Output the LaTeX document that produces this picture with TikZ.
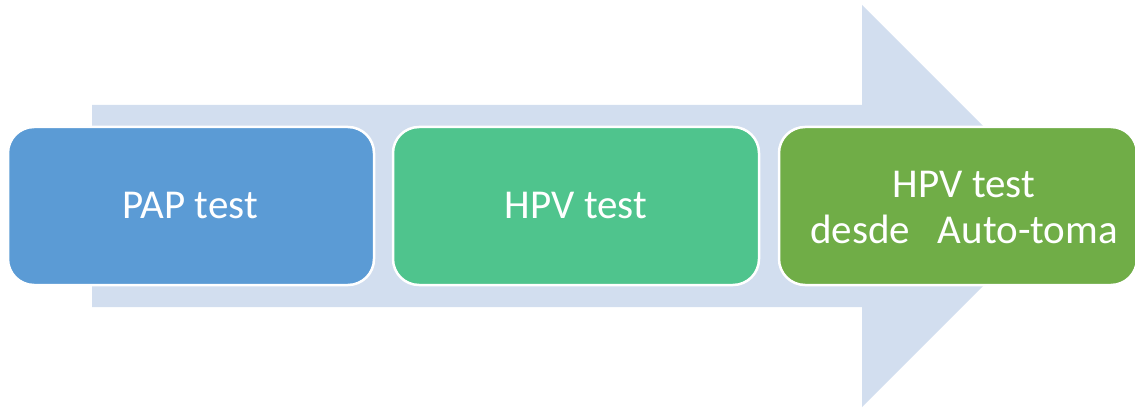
\documentclass[tikz,border=0pt]{standalone}
\usepackage{fontspec}
\setmainfont{Carlito}
\definecolor{arrowc}{HTML}{D2DEEF}
\definecolor{boxa}{HTML}{5B9BD5}
\definecolor{boxb}{HTML}{4FC48D}
\definecolor{boxc}{HTML}{70AD47}
\begin{document}
\begin{tikzpicture}[x=1pt,y=-1pt,
  stepbox/.style={draw=white,line width=2.5pt,rounded corners=26pt},
  steptext/.style={text=white,font=\fontsize{41}{46}\selectfont,align=center}]
\useasboundingbox (0,0) rectangle (1135,409);
\fill[arrowc] (92,105) -- (862,105) -- (862,5) -- (1063,206) -- (862,407) -- (862,307) -- (92,307) -- cycle;
\draw[stepbox,fill=boxa] (8,127) rectangle (374,285);
\draw[stepbox,fill=boxb] (393,127) rectangle (759,285);
\draw[stepbox,fill=boxc] (779,127) rectangle (1137,285);
\node[steptext] (t1) at (190,205) {PAP test};
\node[steptext] (t2) at (576,205) {HPV test};
\node[steptext] (t3) at (964,207) {HPV test\\desde\ \ \ Auto-toma};
\end{tikzpicture}
\end{document}
